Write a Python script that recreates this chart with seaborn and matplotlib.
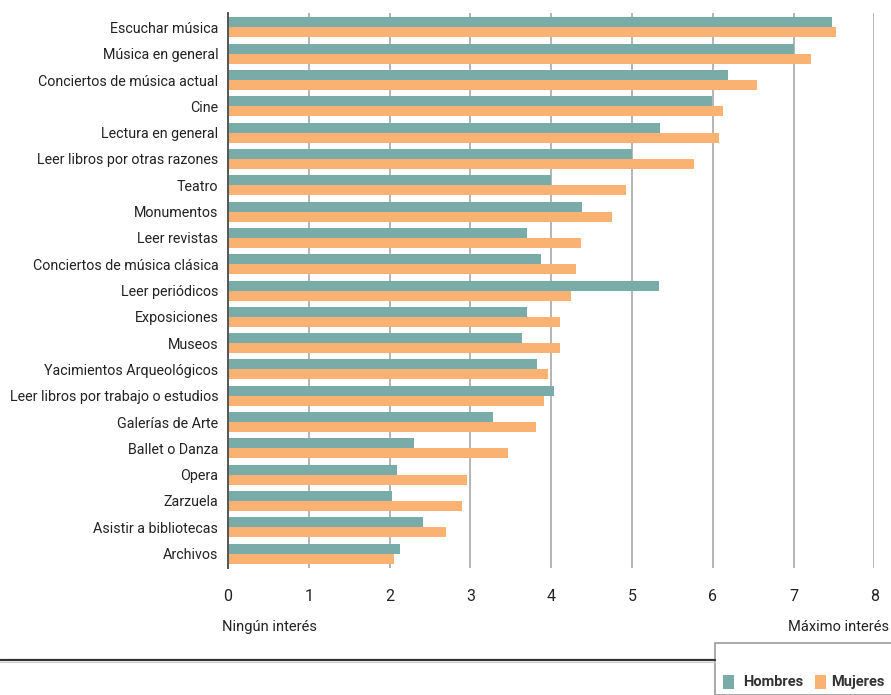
import pandas as pd
import numpy as np
import seaborn as sns
import matplotlib.pyplot as plt
from matplotlib.lines import Line2D
from matplotlib.patches import Rectangle

# data
actividades = [
    "Escuchar música", "Música en general", "Conciertos de música actual", "Cine",
    "Lectura en general", "Leer libros por otras razones", "Teatro", "Monumentos",
    "Leer revistas", "Conciertos de música clásica", "Leer periódicos", "Exposiciones",
    "Museos", "Yacimientos Arqueológicos", "Leer libros por trabajo o estudios",
    "Galerías de Arte", "Ballet o Danza", "Opera", "Zarzuela", "Asistir a bibliotecas",
    "Archivos",
]
hombres = [7.47, 7.00, 6.19, 5.99, 5.35, 5.00, 4.00, 4.38, 3.70, 3.87, 5.34,
           3.70, 3.64, 3.82, 4.03, 3.28, 2.30, 2.09, 2.03, 2.41, 2.13]
mujeres = [7.53, 7.22, 6.55, 6.13, 6.08, 5.77, 4.93, 4.75, 4.37, 4.31, 4.25,
           4.11, 4.11, 3.96, 3.91, 3.81, 3.46, 2.96, 2.90, 2.70, 2.06]
grupos = ["Hombres", "Mujeres"]
colores = ["#79aba8", "#fab273"]

df = pd.DataFrame({
    "actividad": actividades * 2,
    "valor": hombres + mujeres,
    "sexo": ["Hombres"] * len(hombres) + ["Mujeres"] * len(mujeres),
})

# %%
sns.set_style("white")
plt.rcParams["font.family"] = ["Roboto", "Liberation Sans", "DejaVu Sans"]

fig = plt.figure(figsize=(8.91, 6.95), dpi=100)
ax = fig.add_axes([0.2559, 0.1827, 0.7255, 0.7986])

sns.barplot(data=df, y="actividad", x="valor", hue="sexo", hue_order=grupos,
            palette=colores, orient="h", width=0.76, saturation=1,
            linewidth=0, legend=False, ax=ax, zorder=3)

ax.set_xlim(0, 8)
ax.set_ylim(len(actividades) - 0.45, -0.55)
ax.set_xticks(range(9))
ax.grid(axis="x", color="#b4b4b4", linewidth=1.4, zorder=0)
ax.grid(axis="y", visible=False)
ax.set_axisbelow(True)
for s in ["top", "right", "bottom"]:
    ax.spines[s].set_visible(False)
ax.spines["left"].set_color("#555555")
ax.spines["left"].set_linewidth(1.4)
ax.spines["left"].set_zorder(4)
ax.tick_params(axis="x", length=0, pad=15, labelsize=11.5, colors="#222222")
ax.tick_params(axis="y", length=0, pad=7, labelsize=10.3, colors="#222222")
ax.set_xlabel("")
ax.set_ylabel("")

fig.text(222 / 891, 1 - 627 / 695, "Ningún interés", fontsize=10.5, color="#222222",
         ha="left", va="center")
fig.text(889 / 891, 1 - 627 / 695, "Máximo interés", fontsize=10.5, color="#222222",
         ha="right", va="center")

# bottom rule and legend box
fig.add_artist(Line2D([0, 715 / 891], [1 - 660 / 695] * 2, color="#333333", linewidth=1.6))
fig.add_artist(Line2D([0, 715 / 891], [1 - 662 / 695] * 2, color="#cccccc", linewidth=0.8))
fig.add_artist(Rectangle((715 / 891, 0), 1 - 715 / 891 + 0.01, 1 - 643 / 695,
                         facecolor="white", edgecolor="#9a9a9a", linewidth=1.2,
                         transform=fig.transFigure))
fig.add_artist(Rectangle((723 / 891, 1 - 689 / 695), 11 / 891, 14 / 695,
                         facecolor=colores[0], edgecolor="none", transform=fig.transFigure))
fig.text(743 / 891, 1 - 682 / 695, "Hombres", fontsize=10.5, fontweight="bold",
         color="#333333", ha="left", va="center")
fig.add_artist(Rectangle((815 / 891, 1 - 689 / 695), 11 / 891, 14 / 695,
                         facecolor=colores[1], edgecolor="none", transform=fig.transFigure))
fig.text(831 / 891, 1 - 682 / 695, "Mujeres", fontsize=10.5, fontweight="bold",
         color="#333333", ha="left", va="center")

fig.savefig("out.png", dpi=100)
